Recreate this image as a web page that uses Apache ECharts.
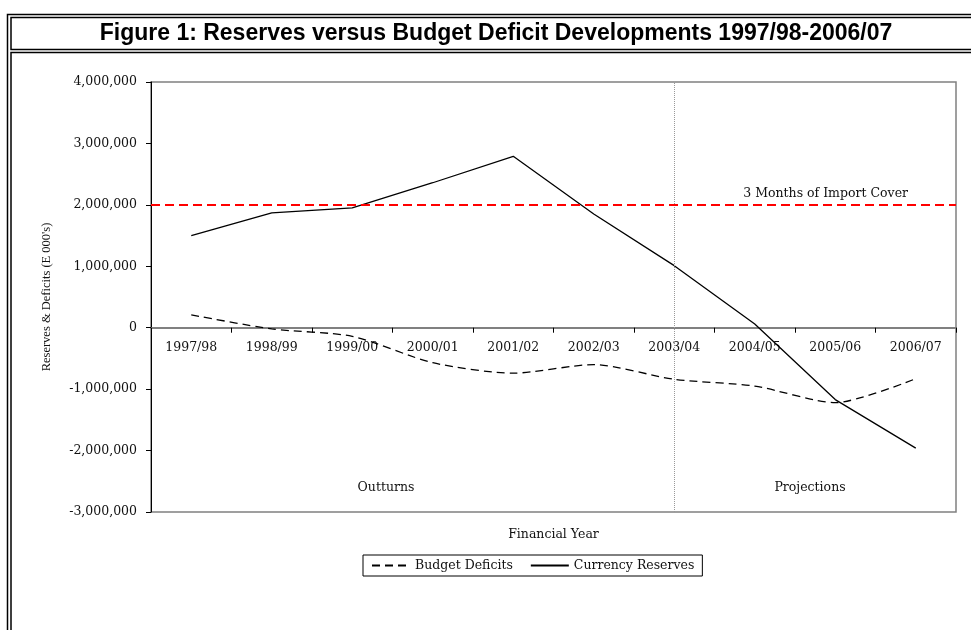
<!DOCTYPE html>
<html><head><meta charset="utf-8">
<script src="https://cdn.jsdelivr.net/npm/echarts@6/dist/echarts.min.js"></script>
<style>html,body{margin:0;padding:0;background:#fff}#c{width:971px;height:630px}</style>
</head><body><div id="c"></div>
<script>
const categories = ['1997/98','1998/99','1999/00','2000/01','2001/02','2002/03','2003/04','2004/05','2005/06','2006/07'];
const budgetDeficits = [210000, -20000, -140000, -570000, -740000, -600000, -840000, -950000, -1220000, -830000];
const currencyReserves = [1500000, 1870000, 1950000, 2360000, 2790000, 1850000, 1010000, 60000, -1170000, -1960000];
const importCover = 2000000;
const importCoverLabel = '3 Months of Import Cover';
const projectionStart = '2003/04';
const yMin = -3000000, yMax = 4000000, yStep = 1000000;
const titleText = 'Figure 1: Reserves versus Budget Deficit Developments 1997/98-2006/07';

const serif = 'DejaVu Serif';
const fs = 12.5;
const gridTop = 82, gridBottom = 118, gridH = 630 - gridTop - gridBottom;
// place the category axis on the zero line of the value axis
const zeroOffset = -gridH * (0 - yMin) / (yMax - yMin);

const chart = echarts.init(document.getElementById('c'), null, {renderer: 'canvas'});
chart.setOption({
  animation: false,
  backgroundColor: '#fff',
  grid: {left: 151, right: 15, top: gridTop, bottom: gridBottom, show: true, borderColor: '#808080', borderWidth: 1.5,
    containLabel: false, outerBoundsMode: 'none'},
  legend: {
    left: 363, top: 555, orient: 'horizontal',
    borderColor: '#000', borderWidth: 1, padding: [4, 8, 4, 8],
    itemWidth: 38, itemHeight: 14, itemGap: 17,
    itemStyle: {opacity: 0},
    textStyle: {fontFamily: serif, fontSize: fs, color: '#111'},
    data: ['Budget Deficits', 'Currency Reserves']
  },
  xAxis: {
    type: 'category', data: categories, boundaryGap: true, position: 'bottom', offset: zeroOffset,
    name: 'Financial Year', nameLocation: 'middle', nameGap: 201,
    nameTextStyle: {fontFamily: serif, fontSize: fs, color: '#111'},
    axisLine: {onZero: false, lineStyle: {color: '#808080', width: 2}},
    axisTick: {show: true, length: 5, interval: 0, lineStyle: {color: '#000', width: 1}},
    axisLabel: {margin: 14, interval: 0, fontFamily: serif, fontSize: fs, color: '#111'},
    splitLine: {show: false}
  },
  yAxis: {
    type: 'value', min: yMin, max: yMax, interval: yStep,
    name: "Reserves & Deficits (E 000's)", nameLocation: 'middle', nameGap: 98, nameRotate: 90,
    nameTextStyle: {fontFamily: 'Liberation Serif', fontSize: 12.5, color: '#111'},
    axisLine: {show: true, onZero: false, lineStyle: {color: '#000', width: 1}},
    axisTick: {show: true, length: 5, lineStyle: {color: '#000', width: 1}},
    axisLabel: {margin: 14, fontFamily: serif, fontSize: fs, color: '#111',
      formatter: v => v.toLocaleString('en-US')},
    splitLine: {show: false}
  },
  series: [
    {
      name: 'Budget Deficits', type: 'line', data: budgetDeficits, symbol: 'none', smooth: 0.25,
      lineStyle: {color: '#000', width: 1.3, type: [8, 5]},
      itemStyle: {color: '#000'},
      markLine: {
        silent: true, symbol: 'none',
        data: [{xAxis: projectionStart, lineStyle: {color: '#999', width: 1, type: [1, 1]}, label: {show: false}}]
      }
    },
    {
      name: 'Currency Reserves', type: 'line', data: currencyReserves, symbol: 'none',
      lineStyle: {color: '#000', width: 1.3, type: 'solid'},
      itemStyle: {color: '#000'},
      markLine: {
        silent: true, symbol: 'none',
        data: [{yAxis: importCover,
          lineStyle: {color: '#ff0000', width: 2, type: [9, 5]},
          label: {show: true, formatter: importCoverLabel, position: 'insideEndTop', distance: [48, 5],
            fontFamily: serif, fontSize: fs, color: '#111'}}]
      }
    }
  ],
  graphic: [
    {type: 'polyline', shape: {points: [[7.5, 700], [7.5, 14.5], [1000, 14.5]]}, style: {fill: null, stroke: '#000', lineWidth: 1.5}, silent: true},
    {type: 'rect', shape: {x: 11, y: 17.5, width: 1000, height: 32}, style: {fill: null, stroke: '#000', lineWidth: 1.5}, silent: true},
    {type: 'rect', shape: {x: 11, y: 52.5, width: 1000, height: 700}, style: {fill: null, stroke: '#000', lineWidth: 1.5}, silent: true},
    {type: 'text', x: 496, y: 34, style: {text: titleText, font: 'bold 23px "Liberation Sans", Arial, sans-serif', fill: '#000', textAlign: 'center', textVerticalAlign: 'middle'}, silent: true},
    {type: 'text', x: 386, y: 488, style: {text: 'Outturns', font: fs + 'px "' + serif + '"', fill: '#111', textAlign: 'center', textVerticalAlign: 'middle'}, silent: true},
    {type: 'text', x: 810, y: 488, style: {text: 'Projections', font: fs + 'px "' + serif + '"', fill: '#111', textAlign: 'center', textVerticalAlign: 'middle'}, silent: true}
  ]
});
</script>
</body></html>
